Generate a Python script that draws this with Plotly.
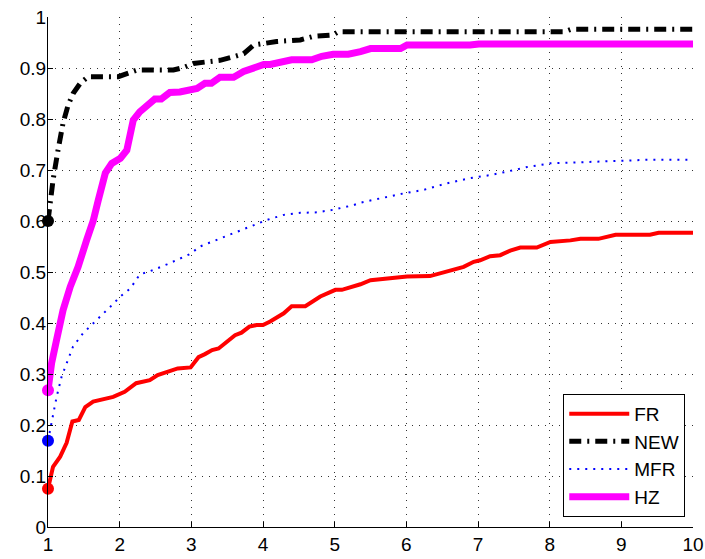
import plotly.graph_objects as go

FR_x = [1, 1.07, 1.17, 1.26, 1.34, 1.43, 1.52, 1.63, 1.91, 2.07, 2.23, 2.42, 2.53, 2.81, 2.99, 3.10, 3.19, 3.29, 3.38, 3.50,
        3.61, 3.70, 3.81, 3.91, 4.0, 4.10, 4.29, 4.40, 4.59, 4.80, 5.01, 5.1, 5.36, 5.50, 6.01, 6.33, 6.80, 6.94, 7.03, 7.17,
        7.31, 7.45, 7.59, 7.82, 8.01, 8.29, 8.43, 8.68, 8.92, 9.40, 9.52, 10]
FR_y = [0.075, 0.118, 0.138, 0.165, 0.207, 0.21, 0.235, 0.246, 0.255, 0.265, 0.282, 0.288, 0.298, 0.311, 0.313, 0.333, 0.339, 0.347, 0.35, 0.363,
        0.376, 0.381, 0.393, 0.396, 0.396, 0.403, 0.419, 0.433, 0.433, 0.452, 0.465, 0.465, 0.476, 0.484, 0.491, 0.492, 0.510, 0.520, 0.523, 0.531,
        0.533, 0.542, 0.548, 0.548, 0.559, 0.562, 0.565, 0.565, 0.573, 0.573, 0.577, 0.577]

NEW_x = [1, 1.03, 1.07, 1.14, 1.21, 1.28, 1.35, 1.45, 1.56, 1.98, 2.12, 2.24, 2.75, 2.89, 3.03, 3.26, 3.40, 3.59, 3.73, 3.87,
         4.01, 4.19, 4.52, 4.70, 4.98, 5.05, 8.2, 8.3, 10]
NEW_y = [0.60, 0.635, 0.680, 0.739, 0.792, 0.827, 0.850, 0.870, 0.883, 0.883, 0.891, 0.896, 0.896, 0.901, 0.909, 0.914, 0.915, 0.922, 0.928, 0.945,
         0.948, 0.952, 0.955, 0.962, 0.965, 0.971, 0.971, 0.976, 0.976]

MFR_x = [1, 1.03, 1.07, 1.12, 1.19, 1.26, 1.35, 1.49, 1.61, 1.75, 1.87, 2.01, 2.15, 2.28, 2.47, 2.66, 2.84, 2.98, 3.12, 3.36,
         3.59, 3.82, 4.05, 4.29, 4.52, 4.75, 4.98, 5.26, 5.36, 5.73, 5.96, 6.24, 6.57, 6.89, 7.17, 7.41, 7.69, 8.01, 8.62, 9.36, 10]
MFR_y = [0.169, 0.19, 0.223, 0.255, 0.295, 0.321, 0.354, 0.380, 0.396, 0.416, 0.432, 0.452, 0.468, 0.495, 0.504, 0.515, 0.527, 0.535, 0.550, 0.563,
         0.576, 0.589, 0.602, 0.612, 0.616, 0.617, 0.622, 0.631, 0.636, 0.648, 0.654, 0.661, 0.674, 0.684, 0.690, 0.697, 0.706, 0.713, 0.716, 0.720, 0.720]

HZ_x = [1, 1.05, 1.12, 1.21, 1.31, 1.42, 1.54, 1.63, 1.70, 1.80, 1.89, 2.01, 2.10, 2.19, 2.28, 2.49, 2.58, 2.70, 2.84, 2.94,
        3.08, 3.19, 3.28, 3.40, 3.59, 3.73, 3.87, 4.01, 4.10, 4.24, 4.40, 4.68, 4.82, 4.98, 5.19, 5.36, 5.50, 5.92, 6.01, 6.89, 7.01, 10]
HZ_y = [0.268, 0.321, 0.367, 0.425, 0.471, 0.510, 0.563, 0.600, 0.640, 0.694, 0.713, 0.723, 0.739, 0.798, 0.814, 0.839, 0.839, 0.852, 0.853, 0.857,
        0.860, 0.870, 0.870, 0.882, 0.882, 0.893, 0.899, 0.907, 0.907, 0.912, 0.916, 0.916, 0.923, 0.927, 0.927, 0.932, 0.938, 0.938, 0.945, 0.945, 0.947, 0.947]

X_TICKS = [1, 2, 3, 4, 5, 6, 7, 8, 9, 10]
Y_TICKS = [0, 0.1, 0.2, 0.3, 0.4, 0.5, 0.6, 0.7, 0.8, 0.9, 1]
Y_LABELS = ["0", "0.1", "0.2", "0.3", "0.4", "0.5", "0.6", "0.7", "0.8", "0.9", "1"]

series = [
    ("FR", FR_x, FR_y, dict(color="#ff0000", width=4, dash="solid")),
    ("NEW", NEW_x, NEW_y, dict(color="#000000", width=5, dash="12px,6px,2px,6px")),
    ("MFR", MFR_x, MFR_y, dict(color="#0000ff", width=2, dash="2px,6px")),
    ("HZ", HZ_x, HZ_y, dict(color="#ff00ff", width=7, dash="solid")),
]

fig = go.Figure()
for name, xs, ys, line in series:
    fig.add_trace(go.Scatter(x=xs, y=ys, mode="lines", name=name, line=line))
for name, xs, ys, line in series:
    fig.add_trace(go.Scatter(x=xs[:1], y=ys[:1], mode="markers", showlegend=False, cliponaxis=False,
                             marker=dict(color=line["color"], size=12), hoverinfo="skip"))

axis_common = dict(
    showline=True, linecolor="black", linewidth=1,
    ticks="inside", ticklen=5, tickcolor="black",
    showgrid=True, gridcolor="#333333", gridwidth=1, griddash="1px,6px",
    zeroline=False, automargin=False,
    tickfont=dict(family="Liberation Sans, Arial, sans-serif", size=19, color="black"),
)

fig.update_xaxes(range=[1, 10], tickvals=X_TICKS, **axis_common)
fig.update_yaxes(range=[0, 1], tickvals=Y_TICKS, ticktext=Y_LABELS, ticklabelstandoff=-3, **axis_common)

fig.update_layout(
    width=705, height=559,
    margin=dict(l=48, r=12, t=17, b=32),
    plot_bgcolor="white", paper_bgcolor="white",
    font=dict(family="Liberation Sans, Arial, sans-serif", size=19, color="black"),
    legend=dict(x=0.988, y=0.02, xanchor="right", yanchor="bottom",
                bgcolor="white", bordercolor="black", borderwidth=1,
                itemwidth=60, font=dict(size=19)),
)

fig.write_html("out.html", config={"displayModeBar": False},
               post_script="document.body.style.margin='0';document.body.style.overflow='hidden';")
